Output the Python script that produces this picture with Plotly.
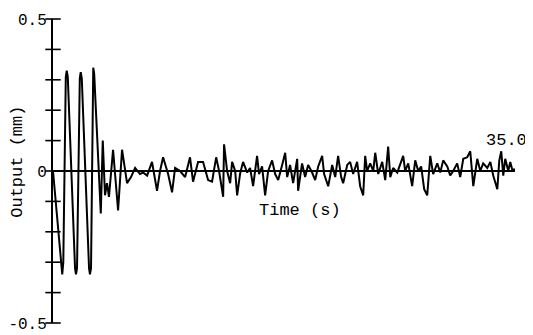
import plotly.graph_objects as go

# Time (s) and output (mm)
time_s = [0.00, 0.57, 0.63, 0.70, 0.78, 0.97, 1.04, 1.12,
          1.67, 1.74, 1.82, 2.03, 2.10, 2.18,
          2.73, 2.80, 2.88, 3.00, 3.05, 3.12,
          3.62, 3.77, 3.94, 4.09, 4.24, 4.55, 4.93, 5.23, 5.61, 5.91,
          6.22, 6.59, 6.82, 7.13, 7.50, 7.88, 8.11, 8.34, 8.72, 9.02,
          9.25, 9.63, 10.01, 10.38, 10.61, 10.99, 11.37, 11.75, 12.05, 12.36,
          12.58, 12.89, 12.96, 13.19, 13.42, 13.57, 13.80, 13.95, 14.17, 14.40,
          14.71, 14.93, 15.16, 15.46, 15.61, 15.84, 16.07, 16.30, 16.60, 16.83,
          17.06, 17.36, 17.59, 17.74, 17.96, 18.19, 18.50, 18.57, 18.87, 19.10,
          19.33, 19.63, 19.86, 20.09, 20.39, 20.54, 20.85, 21.15, 21.38, 21.60,
          21.83, 21.98, 22.29, 22.51, 22.74, 23.04, 23.27, 23.50, 23.65, 23.80,
          24.03, 24.26, 24.41, 24.64, 24.94, 25.17, 25.39, 25.55, 25.77, 26.08,
          26.30, 26.53, 26.68, 26.91, 27.21, 27.44, 27.67, 27.89, 28.12, 28.35,
          28.58, 28.80, 29.11, 29.34, 29.56, 29.87, 30.09, 30.32, 30.62, 30.85,
          31.08, 31.38, 31.61, 31.76, 31.84, 32.14, 32.37, 32.59, 32.90, 33.13,
          33.35, 33.66, 33.81, 33.96, 34.11, 34.26, 34.49, 34.64, 34.79, 35.00]

output_mm = [0.000, -0.300, -0.320, -0.340, -0.300, 0.310, 0.330, 0.310,
             -0.320, -0.340, -0.320, 0.305, 0.325, 0.305,
             -0.320, -0.340, -0.320, 0.320, 0.340, 0.320,
             -0.140, 0.100, -0.080, -0.040, -0.085, 0.070, -0.130, 0.070, -0.040, -0.020,
             0.010, -0.010, -0.005, -0.015, 0.030, -0.065, 0.000, 0.045, -0.010, -0.070,
             0.010, 0.000, -0.020, 0.045, -0.035, 0.030, 0.030, -0.030, -0.035, 0.045,
             0.000, -0.085, 0.088, 0.000, -0.040, 0.030, 0.000, -0.080, -0.010, 0.030,
             -0.005, 0.010, -0.050, 0.050, -0.010, 0.015, -0.080, 0.000, 0.035, -0.010,
             -0.030, 0.020, 0.060, -0.020, 0.020, -0.040, 0.040, -0.065, 0.025, -0.020,
             0.020, -0.005, -0.030, 0.015, 0.050, -0.010, -0.050, 0.020, -0.020, 0.050,
             -0.020, -0.040, 0.020, 0.030, -0.010, 0.030, -0.050, -0.080, 0.050, 0.000,
             0.025, 0.000, 0.060, -0.010, 0.030, -0.030, 0.080, -0.020, 0.010, -0.005,
             0.020, 0.050, 0.000, 0.025, -0.050, 0.035, 0.000, 0.015, -0.060, -0.080,
             0.050, -0.010, 0.025, -0.005, 0.035, 0.015, -0.015, 0.000, 0.025, -0.020,
             0.040, 0.045, 0.065, -0.025, -0.050, 0.040, 0.000, 0.025, 0.010, 0.030,
             -0.015, -0.060, 0.035, 0.065, -0.015, 0.040, 0.000, 0.030, 0.005, 0.005]

y_ticks = [-0.5, -0.4, -0.3, -0.2, -0.1, 0.0, 0.1, 0.2, 0.3, 0.4, 0.5]
y_tick_text = ["-0.5", "", "", "", "", "0", "", "", "", "", "0.5"]
x_start = 0.0
x_end = 35.0
x_end_label = "35.0"
x_title = "Time (s)"
y_title = "Output (mm)"

FONT = "Liberation Mono, Courier New, monospace"
FS = 17

fig = go.Figure()
fig.add_trace(go.Scatter(x=time_s, y=output_mm, mode="lines",
                         line=dict(color="black", width=2), showlegend=False,
                         cliponaxis=False, hoverinfo="skip"))
# crossing tick marks on the y axis
fig.add_trace(go.Scatter(x=[x_start] * len(y_ticks), y=y_ticks, mode="markers",
                         marker=dict(symbol="line-ew", size=11,
                                     line=dict(width=1.6, color="black")),
                         showlegend=False, cliponaxis=False, hoverinfo="skip"))

# page body has an 8px default margin -> figure is 8px smaller than window
fig.update_layout(
    width=525, height=327,
    margin=dict(l=45, r=18, t=11, b=12, autoexpand=False),
    paper_bgcolor="white", plot_bgcolor="white",
    font=dict(family=FONT, size=FS, color="black"),
    xaxis=dict(range=[x_start, x_end], showgrid=False, zeroline=False,
               showline=False, showticklabels=False, ticks="", automargin=False),
    yaxis=dict(range=[-0.5, 0.5], tickvals=y_ticks, ticktext=y_tick_text,
               ticks="", ticklabelstandoff=1,
               showline=True, linewidth=2, linecolor="black",
               zeroline=True, zerolinewidth=2, zerolinecolor="black",
               showgrid=False, automargin=False, ticklabeloverflow="allow",
               tickfont=dict(family=FONT, size=16)),
    annotations=[
        dict(text=x_title, x=0.535, y=-0.13, xref="paper", yref="y",
             xanchor="center", showarrow=False, font=dict(family=FONT, size=FS)),
        dict(text=y_title, x=-0.076, y=0.03, xref="paper", yref="y",
             xanchor="center", showarrow=False, textangle=-90,
             font=dict(family=FONT, size=FS)),
        dict(text=x_end_label, x=1.03, y=0.1, xref="paper", yref="y",
             xanchor="right", showarrow=False, font=dict(family=FONT, size=FS)),
    ],
)
fig.write_html("out.html")
